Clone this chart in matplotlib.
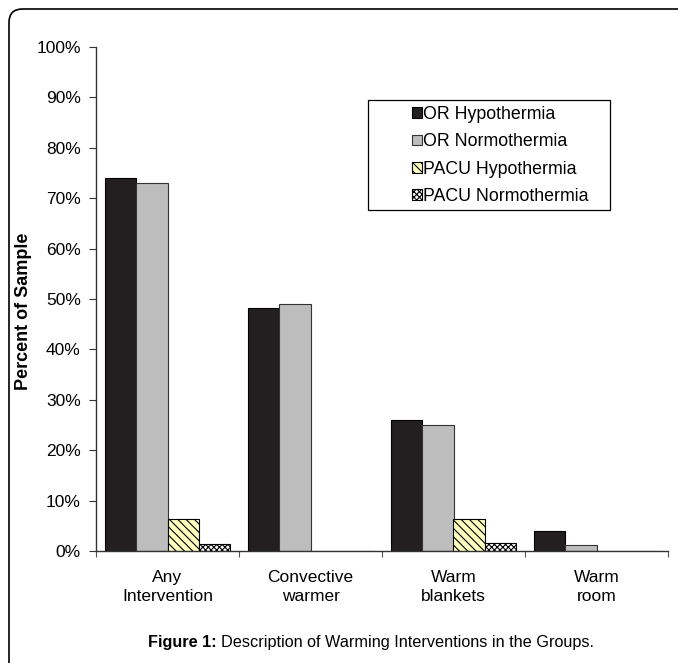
import matplotlib
matplotlib.use("Agg")
import matplotlib.pyplot as plt
import numpy as np
from matplotlib.patches import FancyBboxPatch, Rectangle

categories = ["Any\nIntervention", "Convective\nwarmer", "Warm\nblankets", "Warm\nroom"]
series_names = ["OR Hypothermia", "OR Normothermia", "PACU Hypothermia", "PACU Normothermia"]
or_hypo = [74, 48.2, 26, 4]
or_normo = [73, 49, 25, 1.2]
pacu_hypo = [6.4, 0, 6.4, 0]
pacu_normo = [1.4, 0, 1.5, 0]
yticks = [0, 10, 20, 30, 40, 50, 60, 70, 80, 90, 100]

plt.rcParams['font.family'] = ['Liberation Sans', 'DejaVu Sans']
plt.rcParams['hatch.linewidth'] = 0.8

W, H = 678, 663
fig = plt.figure(figsize=(W / 100, H / 100), dpi=100)
# outer frame
frame = FancyBboxPatch((9 / W, -0.1), 1.2, 1.1 - 9 / H, boxstyle="round,pad=0,rounding_size=0.02",
                       transform=fig.transFigure, fill=False, edgecolor='black', linewidth=1.2,
                       mutation_aspect=W / H)
fig.patches.append(frame)

ax = fig.add_axes([96 / W, 1 - 551 / H, (668 - 96) / W, (551 - 47) / H])

x = np.arange(len(categories))
w = 0.217
series = [or_hypo, or_normo, pacu_hypo, pacu_normo]
styles = [
    dict(color='#231f20', edgecolor='black', hatch=None),
    dict(color='#bdbdbd', edgecolor='#333333', hatch=None),
    dict(color='#ffffc0', edgecolor='black', hatch='\\\\\\\\'),
    dict(color='white', edgecolor='black', hatch='xxxxxx'),
]
offsets = [-1.5, -0.5, 0.5, 1.5]
for vals, st, off, name in zip(series, styles, offsets, series_names):
    ax.bar(x + off * w, vals, w, color=st['color'], edgecolor=st['edgecolor'],
           hatch=st['hatch'], linewidth=0.8, label=name)

ax.set_xlim(-0.5, len(categories) - 0.5)
ax.set_ylim(0, 100)
ax.set_yticks(yticks)
ax.set_yticklabels([f"{v}%" for v in yticks], fontsize=12.5)
ax.set_xticks(np.arange(len(categories) + 1) - 0.5, minor=False)
ax.set_xticklabels([])
ax.tick_params(axis='x', direction='out', length=4, width=0.8, colors='#555555')
ax.tick_params(axis='y', direction='out', length=5, width=0.8, colors='#333333', labelcolor='black', pad=6)
for i, c in enumerate(categories):
    ax.text(x[i], -3.7, c, ha='center', va='top', fontsize=12.5, linespacing=1.38)

for s in ['top', 'right']:
    ax.spines[s].set_visible(False)
for s in ['left', 'bottom']:
    ax.spines[s].set_color('#333333')
    ax.spines[s].set_linewidth(1.0)

ax.set_ylabel("Percent of Sample", fontsize=13, fontweight='bold')
ax.yaxis.set_label_coords(-0.112, 0.476)

# legend (no frame; box drawn separately)
leg = ax.legend(loc='upper left', bbox_to_anchor=(412 / W, 1 - 106 / H),
                bbox_transform=fig.transFigure, fontsize=12.75,
                frameon=False, handlelength=0.55, handleheight=0.55, handletextpad=0.05,
                borderpad=0, labelspacing=0.58, borderaxespad=0)
box = Rectangle((368 / W, 1 - 210 / H), (610 - 368) / W, (210 - 100) / H,
                transform=fig.transFigure, fill=False, edgecolor='black', linewidth=0.9)
fig.patches.append(box)

# caption
t1 = fig.text(148 / W, 1 - 642 / H, "Figure 1:", ha='left', va='center', fontsize=11.7,
              fontweight='bold')
fig.canvas.draw()
bb = t1.get_window_extent(fig.canvas.get_renderer())
fig.text((bb.x1 + 4) / W, 1 - 642 / H, "Description of Warming Interventions in the Groups.",
         ha='left', va='center', fontsize=11.7)

fig.savefig("out.png", dpi=100)
